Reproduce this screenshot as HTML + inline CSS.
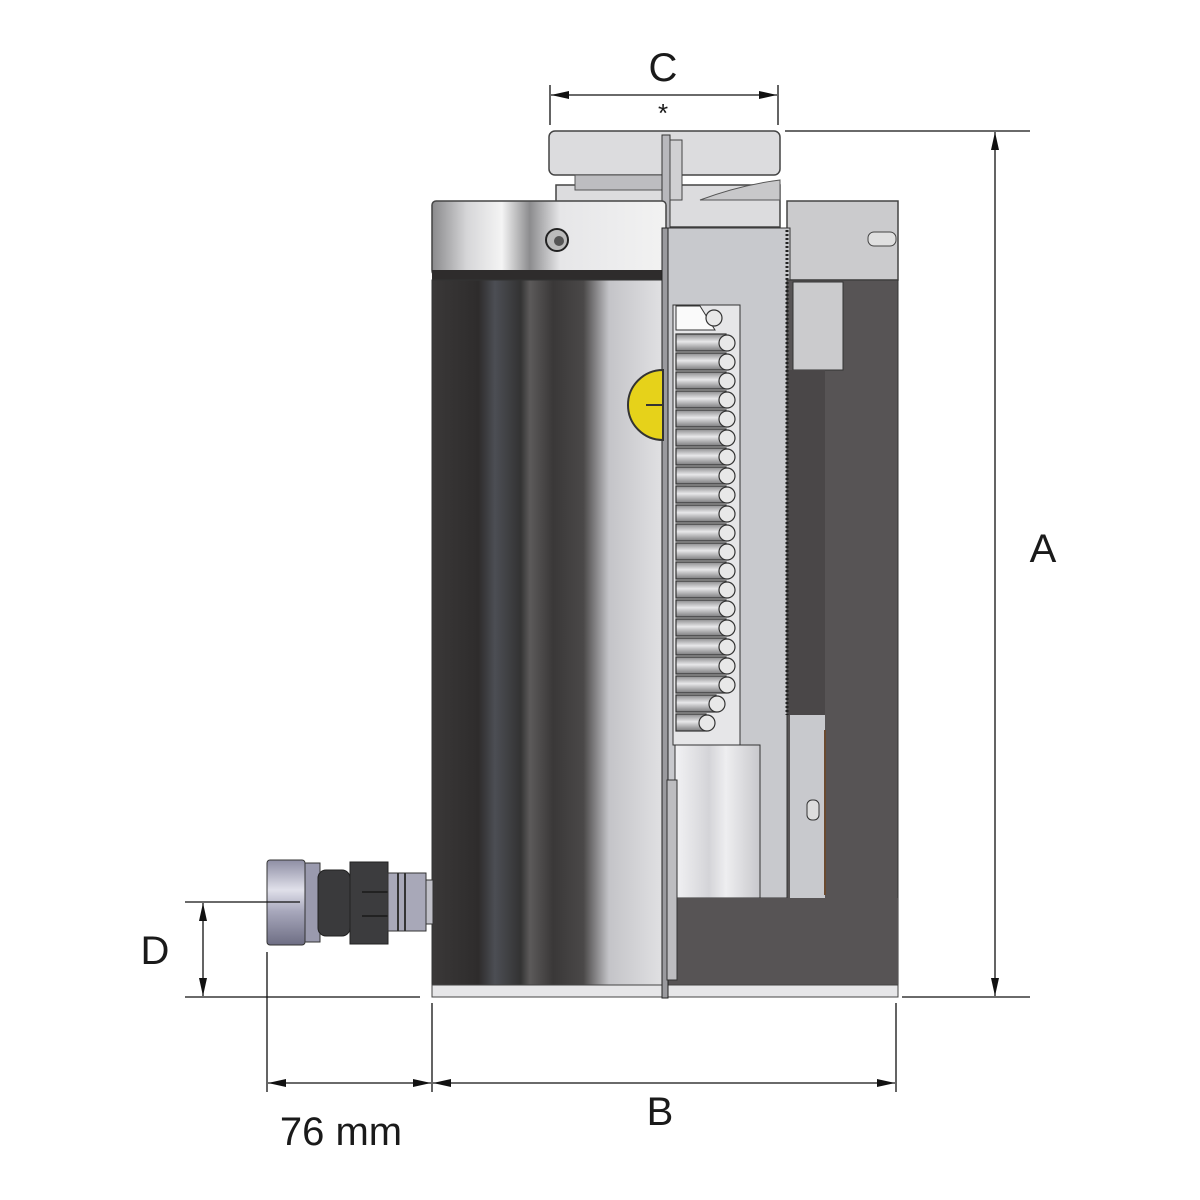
<!DOCTYPE html>
<html><head><meta charset="utf-8"><style>
html,body{margin:0;padding:0;background:#fff;}
svg{display:block;}
text{font-family:"Liberation Sans",sans-serif;fill:#1a1a1a;}
</style></head><body>
<svg width="1200" height="1200" viewBox="0 0 1200 1200" xmlns="http://www.w3.org/2000/svg">
<defs>
<linearGradient id="body" x1="432" x2="665" y1="0" y2="0" gradientUnits="userSpaceOnUse">
<stop offset="0" stop-color="#3a3838"/>
<stop offset="0.2" stop-color="#2e2c2c"/>
<stop offset="0.27" stop-color="#4c4e54"/>
<stop offset="0.38" stop-color="#333"/>
<stop offset="0.42" stop-color="#5c5a5a"/>
<stop offset="0.52" stop-color="#3a3838"/>
<stop offset="0.65" stop-color="#4a4848"/>
<stop offset="0.76" stop-color="#c4c4c8"/>
<stop offset="1" stop-color="#e2e2e4"/>
</linearGradient>
<linearGradient id="cap" x1="432" x2="665" y1="0" y2="0" gradientUnits="userSpaceOnUse">
<stop offset="0" stop-color="#8a8a8c"/>
<stop offset="0.15" stop-color="#d6d6d8"/>
<stop offset="0.3" stop-color="#f4f4f4"/>
<stop offset="0.42" stop-color="#8c8c8e"/>
<stop offset="0.55" stop-color="#e6e6e8"/>
<stop offset="1" stop-color="#f2f2f2"/>
</linearGradient>
<linearGradient id="bore" x1="675" x2="760" y1="0" y2="0" gradientUnits="userSpaceOnUse">
<stop offset="0" stop-color="#f2f2f4"/>
<stop offset="0.4" stop-color="#d4d4d8"/>
<stop offset="0.6" stop-color="#eeeef0"/>
<stop offset="1" stop-color="#c8c8cc"/>
</linearGradient>
<linearGradient id="coil" x1="0" x2="0" y1="0" y2="1">
<stop offset="0" stop-color="#8a8a8c"/>
<stop offset="0.45" stop-color="#e8e8ea"/>
<stop offset="1" stop-color="#7a7a7c"/>
</linearGradient>
<linearGradient id="cpl" x1="0" x2="0" y1="860" y2="945" gradientUnits="userSpaceOnUse">
<stop offset="0" stop-color="#8e8ea4"/>
<stop offset="0.35" stop-color="#e0e0ea"/>
<stop offset="0.6" stop-color="#a8a8bc"/>
<stop offset="1" stop-color="#6e6e84"/>
</linearGradient>
<marker id="ar" viewBox="0 0 18 10" refX="18" refY="5" markerWidth="18" markerHeight="10" markerUnits="userSpaceOnUse" orient="auto-start-reverse">
<path d="M0,1 L18,5 L0,9 z" fill="#111"/>
</marker>
</defs>

<!-- saddle -->
<rect x="549" y="131" width="231" height="44" rx="6" fill="#dcdcde" stroke="#444" stroke-width="1.5"/>
<rect x="556" y="185" width="224" height="42" fill="#dcdcde" stroke="#444" stroke-width="1.5"/>
<path d="M575,175 L665,175 L665,190 L575,190 z" fill="#bdbdc0" stroke="#555"/>
<path d="M700,200 Q740,185 780,180 L780,200 z" fill="#c8c8ca" stroke="#555"/>
<rect x="662" y="135" width="8" height="100" fill="#b8b8bc" stroke="#333"/>
<rect x="670" y="140" width="12" height="60" fill="#d0d0d2" stroke="#444"/>

<!-- top cap -->
<rect x="432" y="201" width="234" height="74" rx="4" fill="url(#cap)" stroke="#444" stroke-width="1.5"/>
<rect x="432" y="270" width="234" height="10" fill="#2e2c2c"/>
<circle cx="557" cy="240" r="11" fill="#bbb" stroke="#222" stroke-width="2"/>
<circle cx="559" cy="241" r="5" fill="#555"/>
<rect x="787" y="201" width="111" height="79" fill="#cbcbcd" stroke="#444" stroke-width="1.5"/>
<rect x="868" y="232" width="28" height="14" rx="6" fill="#e0e0e0" stroke="#444"/>

<!-- body left -->
<rect x="432" y="280" width="233" height="705" fill="url(#body)" stroke="#333"/>
<rect x="432" y="985" width="234" height="12" fill="#e6e6e8" stroke="#444"/>

<!-- right section -->
<rect x="666" y="228" width="124" height="670" fill="#c8c9cd" stroke="#333"/>
<rect x="787" y="280" width="111" height="705" fill="#575455" stroke="#333"/>
<rect x="793" y="282" width="50" height="88" fill="#cbcbcd" stroke="#333"/>
<rect x="788" y="370" width="37" height="345" fill="#4a4748"/>
<line x1="787" y1="230" x2="787" y2="715" stroke="#222" stroke-width="3" stroke-dasharray="2,2"/>
<rect x="790" y="715" width="35" height="183" fill="#c8c9cd"/>
<line x1="825" y1="730" x2="825" y2="895" stroke="#6a4a30" stroke-width="2"/>
<rect x="807" y="800" width="12" height="20" rx="5" fill="#ddd" stroke="#333"/>
<rect x="675" y="745" width="85" height="153" fill="url(#bore)" stroke="#333"/>
<rect x="666" y="898" width="232" height="87" fill="#575455"/>
<rect x="666" y="985" width="232" height="12" fill="#e6e6e8" stroke="#444"/>
<rect x="662" y="228" width="6" height="770" fill="#9a9a9e" stroke="#222"/>
<rect x="667" y="780" width="10" height="200" fill="#bdbdc0" stroke="#333"/>

<!-- spring bore -->
<rect x="673" y="305" width="67" height="440" fill="#e6e6e8" stroke="#333"/>
<path d="M676,306 L700,306 L715,330 L676,330 z" fill="#fafafa" stroke="#333"/>
<g stroke="#333" stroke-width="1.2">
<rect x="676" y="334" width="50" height="17" fill="url(#coil)"/><circle cx="727" cy="343" r="8" fill="#e8e8e8"/>
<rect x="676" y="353" width="50" height="17" fill="url(#coil)"/><circle cx="727" cy="362" r="8" fill="#e8e8e8"/>
<rect x="676" y="372" width="50" height="17" fill="url(#coil)"/><circle cx="727" cy="381" r="8" fill="#e8e8e8"/>
<rect x="676" y="391" width="50" height="17" fill="url(#coil)"/><circle cx="727" cy="400" r="8" fill="#e8e8e8"/>
<rect x="676" y="410" width="50" height="17" fill="url(#coil)"/><circle cx="727" cy="419" r="8" fill="#e8e8e8"/>
<rect x="676" y="429" width="50" height="17" fill="url(#coil)"/><circle cx="727" cy="438" r="8" fill="#e8e8e8"/>
<rect x="676" y="448" width="50" height="17" fill="url(#coil)"/><circle cx="727" cy="457" r="8" fill="#e8e8e8"/>
<rect x="676" y="467" width="50" height="17" fill="url(#coil)"/><circle cx="727" cy="476" r="8" fill="#e8e8e8"/>
<rect x="676" y="486" width="50" height="17" fill="url(#coil)"/><circle cx="727" cy="495" r="8" fill="#e8e8e8"/>
<rect x="676" y="505" width="50" height="17" fill="url(#coil)"/><circle cx="727" cy="514" r="8" fill="#e8e8e8"/>
<rect x="676" y="524" width="50" height="17" fill="url(#coil)"/><circle cx="727" cy="533" r="8" fill="#e8e8e8"/>
<rect x="676" y="543" width="50" height="17" fill="url(#coil)"/><circle cx="727" cy="552" r="8" fill="#e8e8e8"/>
<rect x="676" y="562" width="50" height="17" fill="url(#coil)"/><circle cx="727" cy="571" r="8" fill="#e8e8e8"/>
<rect x="676" y="581" width="50" height="17" fill="url(#coil)"/><circle cx="727" cy="590" r="8" fill="#e8e8e8"/>
<rect x="676" y="600" width="50" height="17" fill="url(#coil)"/><circle cx="727" cy="609" r="8" fill="#e8e8e8"/>
<rect x="676" y="619" width="50" height="17" fill="url(#coil)"/><circle cx="727" cy="628" r="8" fill="#e8e8e8"/>
<rect x="676" y="638" width="50" height="17" fill="url(#coil)"/><circle cx="727" cy="647" r="8" fill="#e8e8e8"/>
<rect x="676" y="657" width="50" height="17" fill="url(#coil)"/><circle cx="727" cy="666" r="8" fill="#e8e8e8"/>
<rect x="676" y="676" width="50" height="17" fill="url(#coil)"/><circle cx="727" cy="685" r="8" fill="#e8e8e8"/>
<rect x="676" y="695" width="40" height="17" fill="url(#coil)"/><circle cx="717" cy="704" r="8" fill="#e8e8e8"/>
<rect x="676" y="714" width="30" height="17" fill="url(#coil)"/><circle cx="707" cy="723" r="8" fill="#e8e8e8"/>
<circle cx="714" cy="318" r="8" fill="#e8e8e8"/>
</g>
<!-- yellow plug -->
<path d="M663,370 A22,22 0 0 0 663,440 z" fill="#e6d21a" stroke="#333" stroke-width="2"/>
<line x1="646" y1="405" x2="662" y2="405" stroke="#333" stroke-width="2"/>

<!-- coupler -->
<rect x="267" y="860" width="38" height="85" rx="3" fill="url(#cpl)" stroke="#333"/>
<rect x="305" y="863" width="15" height="79" fill="#9a9aae" stroke="#333"/>
<rect x="318" y="870" width="32" height="66" rx="8" fill="#3a3a3c" stroke="#222"/>
<rect x="350" y="862" width="38" height="82" fill="#3c3c3e" stroke="#222"/>
<line x1="362" y1="892" x2="388" y2="892" stroke="#222" stroke-width="2"/>
<line x1="362" y1="916" x2="388" y2="916" stroke="#222" stroke-width="2"/>
<rect x="388" y="873" width="38" height="58" fill="#a8a8b8" stroke="#333"/>
<line x1="398" y1="873" x2="398" y2="931" stroke="#333" stroke-width="2"/>
<line x1="405" y1="873" x2="405" y2="931" stroke="#333" stroke-width="2"/>
<rect x="426" y="880" width="7" height="44" fill="#c0c0c8" stroke="#333"/>

<!-- dimensions -->
<g stroke="#111" stroke-width="1.3" fill="none">
<line x1="550" y1="85" x2="550" y2="125"/>
<line x1="778" y1="85" x2="778" y2="125"/>
<line x1="551" y1="95" x2="777" y2="95" marker-start="url(#ar)" marker-end="url(#ar)"/>
<line x1="785" y1="131" x2="1030" y2="131"/>
<line x1="995" y1="132" x2="995" y2="996" marker-start="url(#ar)" marker-end="url(#ar)"/>
<line x1="185" y1="997" x2="420" y2="997"/>
<line x1="902" y1="997" x2="1030" y2="997"/>
<line x1="185" y1="902" x2="300" y2="902"/>
<line x1="203" y1="903" x2="203" y2="996" marker-start="url(#ar)" marker-end="url(#ar)"/>
<line x1="267" y1="952" x2="267" y2="1092"/>
<line x1="432" y1="1003" x2="432" y2="1092"/>
<line x1="896" y1="1003" x2="896" y2="1092"/>
<line x1="268" y1="1083" x2="431" y2="1083" marker-start="url(#ar)" marker-end="url(#ar)"/>
<line x1="433" y1="1083" x2="895" y2="1083" marker-start="url(#ar)" marker-end="url(#ar)"/>
</g>
<text x="663" y="81" font-size="40" text-anchor="middle">C</text>
<text x="663" y="122" font-size="26" text-anchor="middle">*</text>
<text x="1043" y="562" font-size="40" text-anchor="middle">A</text>
<text x="155" y="964" font-size="40" text-anchor="middle">D</text>
<text x="660" y="1125" font-size="40" text-anchor="middle">B</text>
<text x="341" y="1145" font-size="40" text-anchor="middle">76 mm</text>
</svg>
</body></html>
